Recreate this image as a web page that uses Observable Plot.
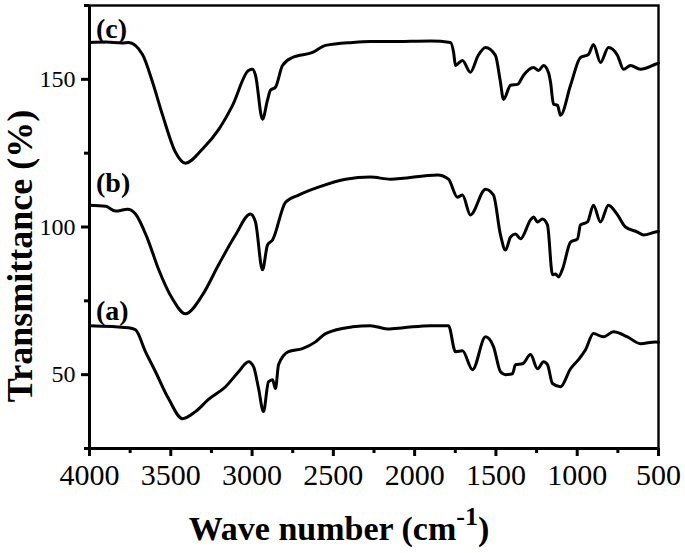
<!DOCTYPE html>
<html>
<head>
<meta charset="utf-8">
<script src="https://cdn.jsdelivr.net/npm/d3@7"></script>
<script src="https://cdn.jsdelivr.net/npm/@observablehq/plot@0.6"></script>
<style>
  html, body { margin: 0; padding: 0; background: #fff; }
  #chart { width: 685px; height: 553px; }
</style>
</head>
<body>
<div id="chart"></div>
<script>
// ---- data ----
const waveC = [4000,3900,3800,3760,3674,3612,3550,3471,3410,3305,3206,3120,3022,2997,2979,2936,2905,2887,2856,2813,2751,2628,2548,2382,2272,2149,1900,1780,1760,1749,1730,1706,1657,1610,1564,1503,1475,1453,1410,1367,1330,1269,1238,1207,1175,1164,1146,1121,1103,1041,980,931,900,857,808,752,715,672,611,519,500];
const transC = [162.5,162.6,162.3,162.5,158.4,149,137.8,125.3,121.6,126.4,133,141.2,153,153.4,151.4,136.5,143,146.3,147.3,154.7,157.4,159.1,161.5,162.5,162.8,162.8,163,162.5,159,154.7,155.5,156.4,152.4,158,160.8,158.1,150,143.2,148,148.3,151.4,154,153,154.7,152,149,141.6,141.2,137.8,148,157.4,158.4,161.8,155.7,160.8,158.1,153.4,154.7,153.4,155.1,155.5];

const waveB = [4000,3900,3840,3766,3717,3643,3576,3490,3410,3305,3206,3102,3010,2979,2936,2905,2874,2794,2714,2591,2425,2272,2149,1859,1792,1737,1706,1657,1564,1515,1472,1441,1410,1380,1349,1287,1269,1244,1214,1183,1152,1133,1115,1090,1041,998,980,937,900,857,808,752,703,629,592,519,500];
const transB = [107.4,107,105.4,106,104.4,96,85.8,75.7,70.6,77,87.2,97.3,104.4,101.7,85.5,93.9,95.6,108.4,110.8,113.5,116.2,116.9,116.2,117.6,116.2,110.1,110.8,104.1,112.8,110.8,97.3,92.2,96.6,97.6,96,102.4,103.4,101.7,102.7,100.7,83.8,84.1,83.1,85.8,94.9,96,100.7,101.7,107.4,101.7,107.4,104.1,100,98.3,97.3,98.3,98.5];

const waveA = [4000,3760,3717,3656,3594,3514,3428,3348,3268,3163,3083,3022,2991,2960,2930,2899,2874,2856,2837,2776,2690,2610,2548,2382,2272,2167,2069,1903,1792,1749,1706,1644,1564,1515,1472,1441,1398,1380,1336,1287,1244,1207,1183,1152,1103,1041,992,949,900,839,777,691,611,519,500];
const transA = [66.6,65.9,65.2,57.8,51,41.9,35.1,37.5,41.6,45.9,51,54.4,52.7,45.3,37.5,47.6,48.3,45.3,53.4,57.8,58.8,61.1,63.9,66.2,66.6,65.5,65.9,66.6,66.6,57.8,58.1,51.7,62.8,59.5,51,50,50.3,53.4,53.7,56.8,52,54.4,53.4,47,45.9,52,55.1,58.4,63.9,62.8,64.5,62.8,60.5,61.1,61];

const seriesNames = ["(a)", "(b)", "(c)"];
const labelWave = [3960, 3960, 3960];
const labelTrans = [71.5, 115, 167];

const xMajor = [4000, 3500, 3000, 2500, 2000, 1500, 1000, 500];
const xMinor = [3750, 3250, 2750, 2250, 1750, 1250, 750];
const yMajor = [50, 100, 150];
const yMinor = [25, 75, 125, 175];

const xTitle = "Wave number (cm";
const xTitleSup = "-1";
const yTitle = "Transmittance (%)";

// ---- build table ----
const rows = [];
[[waveA, transA, "(a)"], [waveB, transB, "(b)"], [waveC, transC, "(c)"]].forEach(([w, t, s]) => {
  w.forEach((v, i) => rows.push({wave: v, trans: t[i], series: s}));
});
const labels = seriesNames.map((s, i) => ({s, wave: labelWave[i], trans: labelTrans[i]}));

const serif = "'Liberation Serif', 'Times New Roman', serif";

const chart = Plot.plot({
  width: 685,
  height: 553,
  marginLeft: 89,
  marginTop: 5,
  marginRight: 27,
  marginBottom: 105,
  style: {fontFamily: serif, background: "#fff", color: "#000", overflow: "visible"},
  x: {domain: [4000, 500]},
  y: {domain: [25, 175]},
  marks: [
    Plot.line(rows, {x: "wave", y: "trans", z: "series", stroke: "#000", strokeWidth: 3, curve: "monotone-x"}),
    Plot.frame({stroke: "#000", strokeWidth: 2.4}),
    Plot.ruleY([25], {stroke: "#000", strokeWidth: 3}),
    Plot.ruleX([4000], {stroke: "#000", strokeWidth: 3}),
    Plot.axisX({ticks: xMajor, tickSize: 8, tickPadding: 7, fontSize: 30, tickFormat: d3.format("d"), strokeWidth: 3, label: null}),
    Plot.axisX({ticks: xMinor, tickSize: 5, tickFormat: () => "", strokeWidth: 3, label: null}),
    Plot.axisY({ticks: yMajor, tickSize: 8, tickPadding: 6, fontSize: 24, tickFormat: d3.format("d"), strokeWidth: 3, label: null}),
    Plot.axisY({ticks: yMinor, tickSize: 5, tickFormat: () => "", strokeWidth: 3, label: null}),
    Plot.text(labels, {x: "wave", y: "trans", text: "s", textAnchor: "start", fontSize: 28, fontWeight: "bold", fill: "#000"})
  ]
});

document.getElementById("chart").appendChild(chart);

// axis titles (real text, with superscript)
const svg = d3.select(chart);
const xt = svg.append("text")
  .attr("x", 339).attr("y", 540)
  .attr("text-anchor", "middle")
  .attr("font-family", serif).attr("font-weight", "bold").attr("font-size", 34)
  .attr("fill", "#000");
xt.append("tspan").text(xTitle);
xt.append("tspan").attr("dy", -15).attr("font-size", 26).text(xTitleSup);
xt.append("tspan").attr("dy", 15).text(")");

svg.append("text")
  .attr("transform", "translate(20,256) rotate(-90)")
  .attr("text-anchor", "middle")
  .attr("dominant-baseline", "central")
  .attr("font-family", serif).attr("font-weight", "bold").attr("font-size", 36)
  .attr("fill", "#000")
  .text(yTitle);
</script>
</body>
</html>
